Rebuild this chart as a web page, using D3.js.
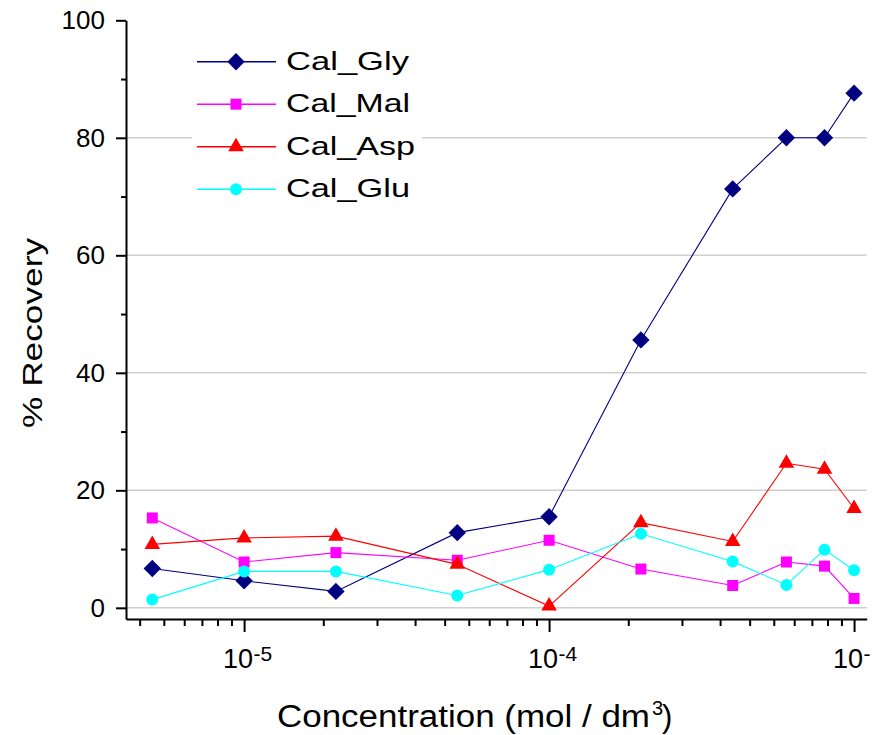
<!DOCTYPE html>
<html>
<head>
<meta charset="utf-8">
<script src="https://cdn.jsdelivr.net/npm/d3@7"></script>
<style>
body { margin: 0; background: #fff; }
text { font-family: Arial, "Liberation Sans", sans-serif; fill: #000; }
</style>
</head>
<body>
<script>
// concentrations (mol / dm3)
var conc = [5e-6, 1e-5, 2e-5, 5e-5, 1e-4, 2e-4, 4e-4, 6e-4, 8e-4, 1e-3]

// % recovery per series
var calGly = [6.7, 4.6, 2.8, 12.8, 15.5, 45.6, 71.3, 80.0, 80.0, 87.6]
var calMal = [15.3, 7.8, 9.4, 8.1, 11.5, 6.6, 3.8, 7.8, 7.1, 1.6]
var calAsp = [10.8, 11.9, 12.2, 7.4, 0.3, 14.5, 11.3, 24.6, 23.6, 16.9]
var calGlu = [1.4, 6.2, 6.2, 2.1, 6.5, 12.6, 7.9, 3.9, 9.9, 6.4]

var seriesNames = ["Cal_Gly", "Cal_Mal", "Cal_Asp", "Cal_Glu"]
var seriesValues = [calGly, calMal, calAsp, calGlu]
var seriesColors = ["#000080", "#ff00ff", "#ff0000", "#00ffff"]

var yTicks = [0, 20, 40, 60, 80, 100]
var yMinor = [10, 30, 50, 70, 90]
var yGrid = [0, 20, 40, 60, 80]
var xTicks = [1e-5, 1e-4, 1e-3]
// the last exponent runs off the page in the original, only its minus shows
var xTickExp = ["-5", "-4", "-"]

var width = 877, height = 735
var margin = {top: 20.3, right: 10.3, bottom: 116, left: 126}

var svg = d3.select("body").append("svg")
	.attr("width", width)
	.attr("height", height)

svg.append("rect").attr("width", width).attr("height", height).attr("fill", "#fff")

var x = d3.scaleLog().domain([4.1e-6, 1.1e-3]).range([margin.left, width - margin.right])
var y = d3.scaleLinear().domain([-1.9, 100]).range([height - margin.bottom, margin.top])

// minor ticks the way the original program spaced them
var xMinor = []
for (var k = -6; k <= -4; k++) {
	for (var n = 2; n <= 10; n++) {
		var v = n * 10 / 11 * Math.pow(10, k)
		if (v > x.domain()[0] && v < x.domain()[1]) xMinor.push(v)
	}
}

// gridlines
svg.append("g").selectAll("line").data(yGrid).enter().append("line")
	.attr("x1", margin.left + 1)
	.attr("x2", width - margin.right)
	.attr("y1", function(d){ return y(d); })
	.attr("y2", function(d){ return y(d); })
	.attr("stroke", "#cfcfcf")
	.attr("stroke-width", 1.5)

// series
var line = d3.line()
	.x(function(d, i){ return x(conc[i]); })
	.y(function(d){ return y(d); })

var symbols = [
	{type: d3.symbolSquare, size: 151, rot: 45},
	{type: d3.symbolSquare, size: 121, rot: 0},
	{type: d3.symbolTriangle, size: 105, rot: 0},
	{type: d3.symbolCircle, size: 113, rot: 0}
]

seriesValues.forEach(function(vals, s){
	var g = svg.append("g")
	g.append("path")
		.attr("d", line(vals))
		.attr("fill", "none")
		.attr("stroke", seriesColors[s])
		.attr("stroke-width", 1.1)
	g.selectAll("path.pt").data(vals).enter().append("path")
		.attr("class", "pt")
		.attr("d", d3.symbol().type(symbols[s].type).size(symbols[s].size))
		.attr("transform", function(d, i){ return "translate(" + x(conc[i]) + "," + y(d) + ") rotate(" + symbols[s].rot + ")"; })
		.attr("fill", seriesColors[s])
})

// y axis
var yAxis = svg.append("g")
	.attr("transform", "translate(" + margin.left + ",0)")
	.call(d3.axisLeft(y).tickValues(yTicks).tickSize(10).tickSizeOuter(0).tickPadding(11))
yAxis.select(".domain").attr("stroke-width", 2)
yAxis.selectAll(".tick line").attr("stroke-width", 2)
yAxis.selectAll(".tick text").attr("font-size", 26).attr("font-family", "Arial, 'Liberation Sans', sans-serif")

var yMinorAxis = svg.append("g")
	.attr("transform", "translate(" + margin.left + ",0)")
	.call(d3.axisLeft(y).tickValues(yMinor).tickSize(5).tickSizeOuter(0).tickFormat(""))
yMinorAxis.select(".domain").remove()
yMinorAxis.selectAll(".tick line").attr("stroke-width", 2)

// x axis
var xBase = height - margin.bottom
var xAxis = svg.append("g")
	.attr("transform", "translate(0," + xBase + ")")
	.call(d3.axisBottom(x).tickValues(xTicks).tickSize(13).tickSizeOuter(0).tickFormat(""))
xAxis.select(".domain").attr("stroke-width", 2)
xAxis.selectAll(".tick line").attr("stroke-width", 2)

var xMinorAxis = svg.append("g")
	.attr("transform", "translate(0," + xBase + ")")
	.call(d3.axisBottom(x).tickValues(xMinor).tickSize(7).tickSizeOuter(0).tickFormat(""))
xMinorAxis.select(".domain").remove()
xMinorAxis.selectAll(".tick line").attr("stroke-width", 2)

// x tick labels 10^n
var xLab = svg.append("g")
xTicks.forEach(function(t, i){
	xLab.append("text")
		.attr("x", x(t) + 9)
		.attr("y", 668)
		.attr("text-anchor", "end")
		.attr("font-size", 27)
		.text("10")
	xLab.append("text")
		.attr("x", x(t) + 9.5)
		.attr("y", 661)
		.attr("font-size", 21)
		.text(xTickExp[i])
})

// axis titles
svg.append("text")
	.attr("transform", "translate(42,333) rotate(-90)")
	.attr("text-anchor", "middle")
	.attr("font-size", 28)
	.attr("textLength", 190)
	.attr("lengthAdjust", "spacingAndGlyphs")
	.text("% Recovery")

svg.append("text")
	.attr("x", 277)
	.attr("y", 727)
	.attr("font-size", 31)
	.attr("textLength", 373)
	.attr("lengthAdjust", "spacingAndGlyphs")
	.text("Concentration (mol / dm")
svg.append("text")
	.attr("x", 652)
	.attr("y", 715)
	.attr("font-size", 20)
	.text("3")
svg.append("text")
	.attr("x", 662)
	.attr("y", 727)
	.attr("font-size", 31)
	.text(")")

// legend
var legend = svg.append("g")
legend.append("rect")
	.attr("x", 192).attr("y", 38).attr("width", 230).attr("height", 172)
	.attr("fill", "#fff")
var legendLen = [123, 124, 129, 124]
seriesNames.forEach(function(name, s){
	var cy = 61.7 + s * 42.5
	legend.append("line")
		.attr("x1", 197).attr("x2", 276)
		.attr("y1", cy).attr("y2", cy)
		.attr("stroke", seriesColors[s])
		.attr("stroke-width", 1.5)
	legend.append("path")
		.attr("d", d3.symbol().type(symbols[s].type).size(symbols[s].size))
		.attr("transform", "translate(236," + cy + ") rotate(" + symbols[s].rot + ")")
		.attr("fill", seriesColors[s])
	legend.append("text")
		.attr("x", 286)
		.attr("y", cy + 8)
		.attr("font-size", 25)
		.attr("textLength", legendLen[s])
		.attr("lengthAdjust", "spacingAndGlyphs")
		.text(name)
})
</script>
</body>
</html>
